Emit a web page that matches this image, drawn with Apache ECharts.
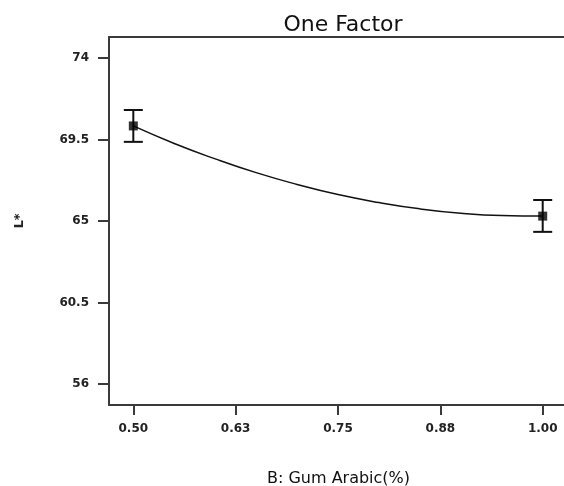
<!DOCTYPE html>
<html>
<head>
<meta charset="utf-8">
<script src="https://cdn.jsdelivr.net/npm/echarts@6/dist/echarts.min.js"></script>
<style>
  html, body { margin: 0; padding: 0; background: #fff; }
  #chart { width: 564px; height: 486px; }
</style>
</head>
<body>
<div id="chart"></div>
<script>
// design points (B: Gum Arabic %, L*)
var pointX = [0.5, 1.0];
var pointY = [70.25, 65.27];
var errLow = [69.37, 64.40];
var errHigh = [71.13, 66.16];

// fitted model line
var curveX = [0.50, 0.55, 0.60, 0.65, 0.70, 0.75, 0.80, 0.85, 0.90, 0.95, 1.00];
var curveY = [70.25, 69.28, 68.43, 67.67, 67.02, 66.46, 66.02, 65.67, 65.43, 65.30, 65.27];

var xTickValues = [0.5, 0.625, 0.75, 0.875, 1.0];
var xTickLabels = ['0.50', '0.63', '0.75', '0.88', '1.00'];
var yTickValues = [56, 60.5, 65, 69.5, 74];
var yTickLabels = ['56', '60.5', '65', '69.5', '74'];

var axisColor = '#3a3a3a';
var labelFont = {
    fontFamily: 'DejaVu Sans',
    fontSize: 12,
    fontWeight: 'bold',
    color: '#222'
};

var myChart = echarts.init(document.getElementById('chart'));

var option = {
    animation: false,
    title: {
        text: 'One Factor',
        left: 338,
        top: 9,
        textAlign: 'center',
        textStyle: {
            fontFamily: 'DejaVu Sans',
            fontSize: 22,
            fontWeight: 'normal',
            color: '#111'
        }
    },
    grid: {
        left: 109,
        top: 37,
        width: 459,
        height: 368,
        containLabel: false,
        outerBoundsMode: 'none',
        show: false
    },
    xAxis: [{
        type: 'value',
        min: 0.4703,
        max: 1.0309,
        name: 'B: Gum Arabic(%)',
        nameLocation: 'middle',
        nameGap: 66,
        nameTextStyle: {
            fontFamily: 'DejaVu Sans',
            fontSize: 16,
            color: '#111'
        },
        splitLine: { show: false },
        axisLine: { lineStyle: { color: axisColor, width: 2 } },
        axisTick: {
            length: 10,
            customValues: xTickValues,
            lineStyle: { color: axisColor, width: 2 }
        },
        axisLabel: Object.assign({
            margin: 18,
            customValues: xTickValues,
            formatter: function (v) {
                var i = xTickValues.indexOf(v);
                return i >= 0 ? xTickLabels[i] : '';
            }
        }, labelFont)
    }, {
        // top frame line only
        type: 'value',
        position: 'top',
        min: 0.4703,
        max: 1.0309,
        splitLine: { show: false },
        axisLine: { lineStyle: { color: axisColor, width: 2 } },
        axisTick: { show: false },
        axisLabel: { show: false }
    }],
    yAxis: {
        type: 'value',
        min: 54.84,
        max: 75.16,
        name: 'L*',
        nameLocation: 'middle',
        nameGap: 83,
        nameRotate: 90,
        nameTextStyle: {
            fontFamily: 'DejaVu Sans',
            fontSize: 13,
            fontWeight: 'bold',
            color: '#222'
        },
        splitLine: { show: false },
        axisLine: { lineStyle: { color: axisColor, width: 2 } },
        axisTick: {
            length: 11,
            customValues: yTickValues,
            lineStyle: { color: axisColor, width: 2 }
        },
        axisLabel: Object.assign({
            margin: 20,
            customValues: yTickValues,
            formatter: function (v) {
                var i = yTickValues.indexOf(v);
                return i >= 0 ? yTickLabels[i] : '';
            }
        }, labelFont)
    },
    series: [
        {
            name: 'model',
            type: 'line',
            smooth: true,
            showSymbol: false,
            lineStyle: { color: '#111', width: 1.5 },
            data: curveX.map(function (x, i) { return [x, curveY[i]]; }),
            z: 2
        },
        {
            name: 'error',
            type: 'custom',
            renderItem: function (params, api) {
                var x = api.value(0);
                var top = api.coord([x, api.value(2)]);
                var bot = api.coord([x, api.value(1)]);
                var hw = 9.5;
                var style = { stroke: '#111', lineWidth: 2 };
                return {
                    type: 'group',
                    children: [
                        { type: 'line', shape: { x1: top[0], y1: top[1], x2: bot[0], y2: bot[1] }, style: style },
                        { type: 'line', shape: { x1: top[0] - hw, y1: top[1], x2: top[0] + hw, y2: top[1] }, style: style },
                        { type: 'line', shape: { x1: bot[0] - hw, y1: bot[1], x2: bot[0] + hw, y2: bot[1] }, style: style }
                    ]
                };
            },
            data: pointX.map(function (x, i) { return [x, errLow[i], errHigh[i]]; }),
            z: 3
        },
        {
            name: 'points',
            type: 'scatter',
            symbol: 'rect',
            symbolSize: 9,
            itemStyle: { color: '#000' },
            data: pointX.map(function (x, i) { return [x, pointY[i]]; }),
            z: 4
        }
    ]
};

myChart.setOption(option);
</script>
</body>
</html>
